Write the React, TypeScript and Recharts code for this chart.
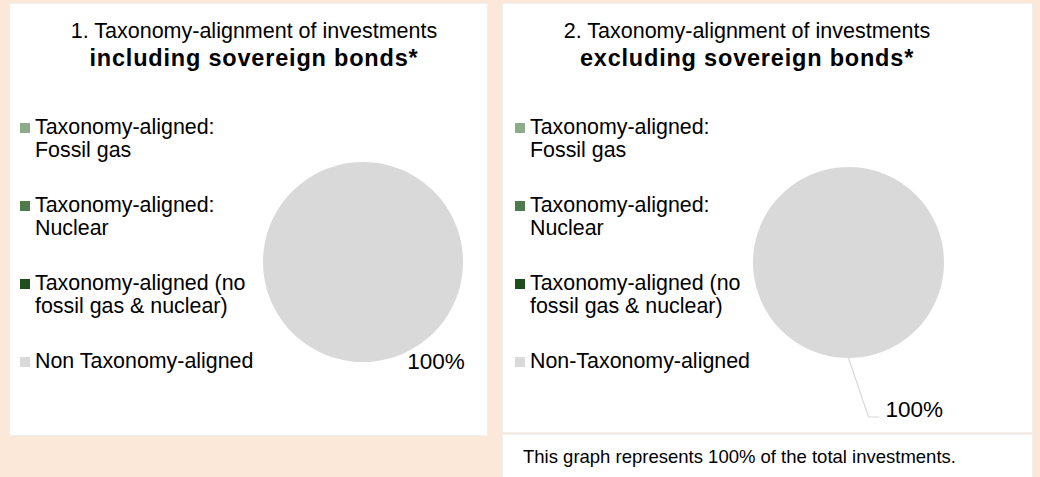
import React from 'react';
import { PieChart, Pie, Cell, Legend } from 'recharts';

const categoriesIncl = [
  'Taxonomy-aligned: Fossil gas',
  'Taxonomy-aligned: Nuclear',
  'Taxonomy-aligned (no fossil gas & nuclear)',
  'Non Taxonomy-aligned',
];
const categoriesExcl = [
  'Taxonomy-aligned: Fossil gas',
  'Taxonomy-aligned: Nuclear',
  'Taxonomy-aligned (no fossil gas & nuclear)',
  'Non-Taxonomy-aligned',
];
const legendLinesIncl = [
  ['Taxonomy-aligned:', 'Fossil gas'],
  ['Taxonomy-aligned:', 'Nuclear'],
  ['Taxonomy-aligned (no', 'fossil gas & nuclear)'],
  ['Non Taxonomy-aligned'],
];
const legendLinesExcl = [
  ['Taxonomy-aligned:', 'Fossil gas'],
  ['Taxonomy-aligned:', 'Nuclear'],
  ['Taxonomy-aligned (no', 'fossil gas & nuclear)'],
  ['Non-Taxonomy-aligned'],
];
const valuesIncl = [0, 0, 0, 100];
const valuesExcl = [0, 0, 0, 100];
const colors = ['#8FAA8A', '#4F7A4B', '#1F4E1C', '#D9D9D9'];

const titleIncl = ['1. Taxonomy-alignment of investments', 'including sovereign bonds*'];
const titleExcl = ['2. Taxonomy-alignment of investments', 'excluding sovereign bonds*'];
const footerText = 'This graph represents 100% of the total investments.';

const FONT = '"Liberation Sans", Arial, sans-serif';
const RADIAN = Math.PI / 180;

const dataIncl = categoriesIncl.map((name, i) => ({ name, value: valuesIncl[i] }));
const dataExcl = categoriesExcl.map((name, i) => ({ name, value: valuesExcl[i] }));

const makeLegend = (cats: string[], lines: string[][], textLeft: number) => (props: any) => {
  const payload = [...(props.payload || [])].sort(
    (a: any, b: any) => cats.indexOf(a.value) - cats.indexOf(b.value)
  );
  return (
    <div style={{ fontFamily: FONT, fontSize: 21.4, color: '#000', position: 'relative', textAlign: 'left' }}>
      {payload.map((entry: any, i: number) => {
        const idx = cats.indexOf(entry.value);
        return (
          <div key={i} style={{ position: 'relative', height: 78 }}>
            <div
              style={{
                position: 'absolute',
                left: textLeft - 15,
                top: 7,
                width: 10,
                height: 10,
                background: entry.color,
              }}
            />
            <div style={{ position: 'absolute', left: textLeft, top: 0, lineHeight: '23px', whiteSpace: 'nowrap' }}>
              {(lines[idx] || [entry.value]).map((l, k) => (
                <div key={k}>{l}</div>
              ))}
            </div>
          </div>
        );
      })}
    </div>
  );
};

const labelPlain = (props: any) => {
  const { cx, cy, outerRadius, value } = props;
  if (!value) return null;
  return (
    <text
      x={cx + outerRadius * 0.73}
      y={cy + outerRadius * 0.99}
      textAnchor="middle"
      dominantBaseline="central"
      fontFamily={FONT}
      fontSize={22.5}
      fill="#000"
    >
      {`${value}%`}
    </text>
  );
};

const labelLeader = (props: any) => {
  const { cx, cy, outerRadius, midAngle, value } = props;
  if (!value) return null;
  const bx = cx + outerRadius * Math.cos(-midAngle * RADIAN);
  const by = cy + outerRadius * Math.sin(-midAngle * RADIAN);
  return (
    <g>
      <path
        d={`M${bx},${by} L${bx + 20},${by + 59} L${bx + 31},${by + 59}`}
        stroke="#D9D9D9"
        strokeWidth={1.2}
        fill="none"
      />
      <text
        x={bx + 37}
        y={by + 51}
        textAnchor="start"
        dominantBaseline="central"
        fontFamily={FONT}
        fontSize={22.5}
        fill="#000"
      >
        {`${value}%`}
      </text>
    </g>
  );
};

const Title = ({ lines, centerX }: { lines: string[]; centerX: number }) => (
  <div
    style={{
      position: 'absolute',
      left: centerX - 250,
      width: 500,
      top: 14,
      textAlign: 'center',
      fontFamily: FONT,
      fontSize: 21.5,
      lineHeight: '27px',
      color: '#000',
      zIndex: 2,
    }}
  >
    <div>{lines[0]}</div>
    <div style={{ fontWeight: 'bold', fontSize: 23.5, letterSpacing: 0.8 }}>{lines[1]}</div>
  </div>
);

export default function App() {
  return (
    <div
      style={{
        position: 'absolute',
        left: 0,
        top: 0,
        width: 1040,
        height: 477,
        overflow: 'hidden',
        background: '#FBE8D8',
        fontFamily: FONT,
      }}
    >
      {/* Left panel */}
      <div
        style={{
          position: 'absolute',
          left: 10,
          top: 4,
          width: 477,
          height: 431,
          background: '#fff',
          boxShadow: '0 0 0 1px #EFEFEF',
        }}
      >
        <Title lines={titleIncl} centerX={244} />
        <PieChart width={477} height={431} margin={{ top: 0, right: 0, bottom: 0, left: 0 }}>
          <Pie
            data={dataIncl}
            dataKey="value"
            nameKey="name"
            cx={353}
            cy={258}
            outerRadius={100}
            startAngle={90}
            endAngle={-270}
            stroke="none"
            isAnimationActive={false}
            label={labelPlain}
            labelLine={false}
          >
            {dataIncl.map((d, i) => (
              <Cell key={i} fill={colors[i]} />
            ))}
          </Pie>
          <Legend
            layout="horizontal"
            align="center"
            verticalAlign="middle"
            content={makeLegend(categoriesIncl, legendLinesIncl, 25)}
            wrapperStyle={{ position: 'absolute', left: 0, top: 112, width: 260 }}
          />
        </PieChart>
      </div>

      {/* Right panel */}
      <div
        style={{
          position: 'absolute',
          left: 503,
          top: 4,
          width: 529,
          height: 428,
          background: '#fff',
          boxShadow: '0 0 0 1px #EFEFEF',
        }}
      >
        <Title lines={titleExcl} centerX={244} />
        <PieChart width={529} height={428} margin={{ top: 0, right: 0, bottom: 0, left: 0 }}>
          <Pie
            data={dataExcl}
            dataKey="value"
            nameKey="name"
            cx={345.5}
            cy={258.5}
            outerRadius={95.5}
            startAngle={90}
            endAngle={-270}
            stroke="none"
            isAnimationActive={false}
            label={labelLeader}
            labelLine={false}
          >
            {dataExcl.map((d, i) => (
              <Cell key={i} fill={colors[i]} />
            ))}
          </Pie>
          <Legend
            layout="horizontal"
            align="center"
            verticalAlign="middle"
            content={makeLegend(categoriesExcl, legendLinesExcl, 27)}
            wrapperStyle={{ position: 'absolute', left: 0, top: 112, width: 260 }}
          />
        </PieChart>
      </div>

      {/* Footer */}
      <div
        style={{
          position: 'absolute',
          left: 503,
          top: 435,
          width: 529,
          height: 60,
          background: '#fff',
          boxShadow: '0 0 0 1px #EFEFEF',
        }}
      >
        <div
          style={{
            position: 'absolute',
            left: 20,
            top: 11,
            fontFamily: FONT,
            fontSize: 18.5,
            lineHeight: '22px',
            color: '#000',
            whiteSpace: 'nowrap',
          }}
        >
          {footerText}
        </div>
      </div>
    </div>
  );
}
